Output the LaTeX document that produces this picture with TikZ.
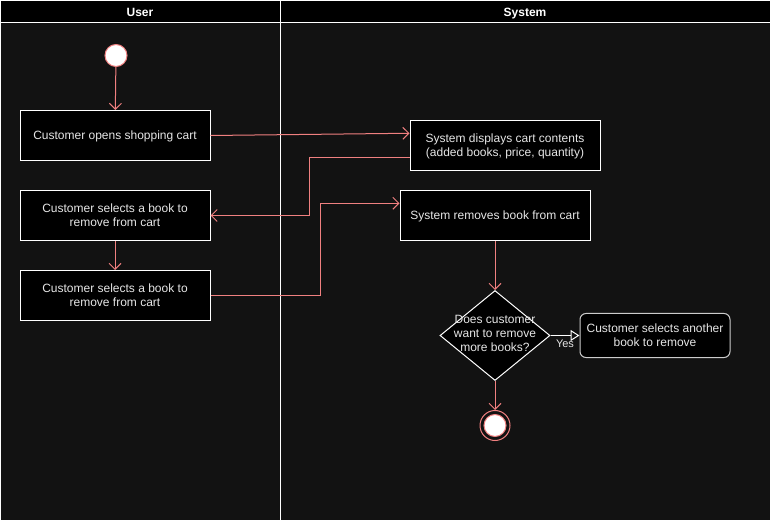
\documentclass[tikz,border=0pt]{standalone}
\usepackage{fontspec}
\setmainfont{Liberation Sans}
\usetikzlibrary{arrows.meta,shapes.geometric,calc}
\definecolor{bgc}{HTML}{121212}
\definecolor{lnc}{HTML}{F08080}
\definecolor{txc}{HTML}{E6E6E6}
\begin{document}
\begin{tikzpicture}[x=1pt,y=-1pt,
  act/.style={draw=white,fill=black,line width=1pt,minimum width=190pt,minimum height=50pt,text=txc,font=\fontsize{12}{14}\selectfont,align=center,inner sep=0pt},
  one/.style={text height=10pt,text depth=1pt},
  two/.style={text height=24pt,text depth=1.5pt},
  flow/.style={draw=lnc,line width=1pt,-{Straight Barb[length=6pt,width=12pt]}},
  hdr/.style={text=white,font=\bfseries\fontsize{12}{14}\selectfont,anchor=base}]
\useasboundingbox (0,0) rectangle (771,521);
\fill[bgc] (0,0) rectangle (771,521);
\fill[black] (0,0) rectangle (771,23);
\draw[white,line width=1pt] (0.5,0.5) rectangle (770.5,520.5);
\draw[white,line width=1pt] (0.5,23) -- (770.5,23);
\draw[white,line width=1pt] (280.5,0.5) -- (280.5,520.5);
\node[hdr] (hu) at (140,16.5) {User};
\node[hdr] (hs) at (525,16.5) {System};
% start
\node[circle,draw=lnc,fill=white,line width=1pt,minimum size=22pt,inner sep=0pt] (st) at (116,55.5) {};
% boxes
\node[act,one] (b1) at (115,135.5) {Customer opens shopping cart};
\node[act,two] (b2) at (505,145.5) {System displays cart contents\\(added books, price, quantity)};
\node[act,two] (b3) at (115,215.5) {Customer selects a book to\\remove from cart};
\node[act,two] (b4) at (115,295.5) {Customer selects a book to\\remove from cart};
\node[act,one] (b5) at (495,215.5) {System removes book from cart};
\node[diamond,draw=white,fill=black,line width=1pt,minimum width=110pt,minimum height=90pt,inner sep=0pt,aspect=1.22] (d) at (495,335.5) {};
\node[text=txc,font=\fontsize{12}{14}\selectfont,align=center] (dt) at (495,333) {Does customer\\want to remove\\more books?};
\node[draw=white!80!black,fill=black,line width=1pt,rounded corners=6pt,minimum width=150pt,minimum height=44pt,inner sep=0pt,text=txc,font=\fontsize{12}{14}\selectfont,align=center,two] (b6) at (655,335.5) {Customer selects another\\book to remove};
% end
\node[circle,draw=lnc,line width=1pt,minimum size=30pt,inner sep=0pt] (en) at (495,425.5) {};
\node[circle,draw=lnc,fill=white,line width=1pt,minimum size=22pt,inner sep=0pt] (en2) at (495,425.5) {};
% connectors
\coordinate (p1) at ($(b2.north west)!0.26!(b2.south west)$);
\coordinate (p2) at ($(b2.north west)!0.74!(b2.south west)$);
\coordinate (p3) at ($(b5.north west)!0.26!(b5.south west)$);
\draw[flow] (st) -- (b1);
\draw[flow] (b1.east) -- (p1);
\draw[flow] (p2) -- ++(-100,0) |- (b3.east);
\draw[flow] (b3) -- (b4);
\draw[flow] (b4.east) -- ++(110,0) |- (p3);
\draw[flow] (b5) -- (d.north);
\draw[draw=white,line width=1pt,-{Triangle[open,length=9pt,width=11pt]}] (d.east) -- (b6.west) node[pos=0.5,below,text=txc,font=\fontsize{11}{13}\selectfont,yshift=-1pt] (yl) {Yes};
\draw[flow] (d.south) -- (en);
\end{tikzpicture}
\end{document}
